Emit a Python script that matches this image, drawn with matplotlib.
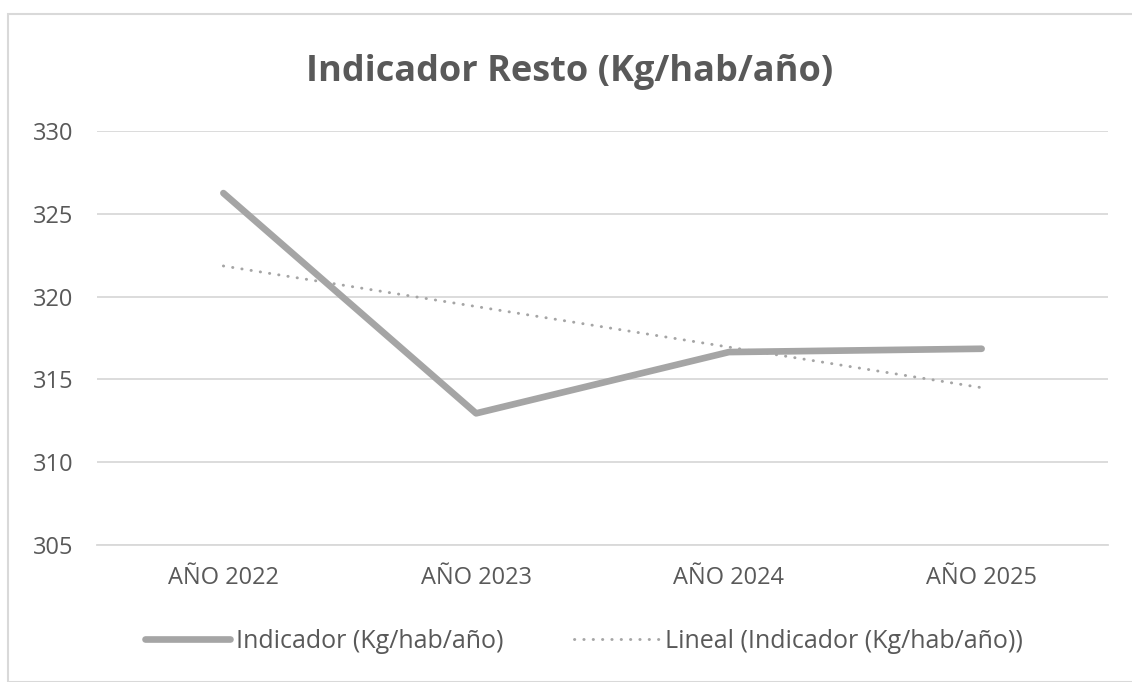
import numpy as np
import matplotlib.pyplot as plt
from matplotlib.patches import Rectangle

# values
years = ["AÑO 2022", "AÑO 2023", "AÑO 2024", "AÑO 2025"]
indicador = [326.25, 312.95, 316.65, 316.85]
yticks = [305, 310, 315, 320, 325, 330]

W, H = 1132, 682
plt.rcParams['font.family'] = ['Open Sans', 'DejaVu Sans']
fig = plt.figure(figsize=(W / 100, H / 100), dpi=100)

# chart area border
fig.patches.append(Rectangle((8 / W, 0), 1.0, 1 - 14 / H, transform=fig.transFigure,
                             fill=False, edgecolor="#d9d9d9", linewidth=1.5))

ax = fig.add_axes([97 / W, 1 - 545 / H, (1108 - 97) / W, (545 - 131) / H])

x = np.arange(len(years))
slope, icpt = np.polyfit(x, indicador, 1)
trend = slope * x + icpt

ax.plot(x, indicador, color="#a5a5a5", lw=4.8, solid_capstyle="round",
        solid_joinstyle="round", label="Indicador (Kg/hab/año)", zorder=3)
ax.plot(x, trend, color="#a5a5a5", lw=2.1, linestyle=(0, (0.1, 3.1)),
        dash_capstyle="round", label="Lineal (Indicador (Kg/hab/año))", zorder=2)

ax.set_xlim(-0.5, len(years) - 0.5)
ax.set_ylim(305, 330)
ax.set_yticks(yticks)
ax.set_xticks(x)
ax.set_xticklabels(years)
ax.grid(axis="y", color="#d9d9d9", lw=1.3)
ax.set_axisbelow(True)
for s in ax.spines.values():
    s.set_visible(False)
ax.spines["bottom"].set_visible(True)
ax.spines["bottom"].set_color("#d9d9d9")
ax.spines["bottom"].set_linewidth(1.3)
ax.tick_params(length=0, labelsize=17, labelcolor="#595959")
ax.tick_params(axis="y", pad=17)
ax.tick_params(axis="x", pad=15)

fig.text(570 / W, 1 - 72 / H, "Indicador Resto (Kg/hab/año)", ha="center", va="center",
         fontsize=26, fontweight="bold", color="#595959")

leg = ax.legend(loc="center", bbox_to_anchor=(584 / W, 1 - 641 / H),
                bbox_transform=fig.transFigure, ncol=2, frameon=False,
                fontsize=18, labelcolor="#595959", handlelength=3.4,
                handletextpad=0.25, columnspacing=2.8)

fig.savefig("out.png", dpi=100)
